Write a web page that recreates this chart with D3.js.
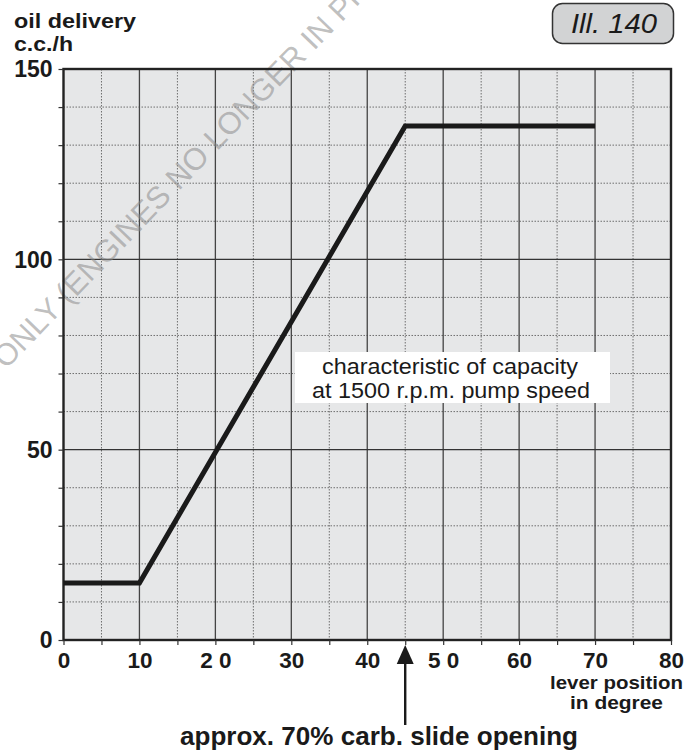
<!DOCTYPE html>
<html>
<head>
<meta charset="utf-8">
<script src="https://cdn.jsdelivr.net/npm/d3@7"></script>
<style>
  html, body { margin: 0; padding: 0; background: #fff; }
  svg { display: block; font-family: "Liberation Sans", Arial, Helvetica, sans-serif; }
</style>
</head>
<body>
<svg id="chart" width="692" height="751"></svg>
<script>
// Oil pump delivery vs. lever position
const leverDeg    = [0, 10, 45, 70];
const oilDelivery = [15, 15, 135, 135];

const xTickValues = [0, 10, 20, 30, 40, 50, 60, 70, 80];
const xTickLabels = ["0", "10", "2 0", "30", "40", "5 0", "60", "70", "80"];
const yTickValues = [0, 50, 100, 150];
const yTickLabels = ["0", "50", "100", "150"];

const slideMarkDeg = 45;   // approx. 70% carb. slide opening

const svg = d3.select("#chart");
const plotL = 63.5, plotR = 671, plotT = 69, plotB = 640;
const ink = "#1a1a1a";
const fontFam = "Liberation Sans, Arial, sans-serif";

const x = d3.scaleLinear().domain([0, 80]).range([plotL, plotR]);
const y = d3.scaleLinear().domain([0, 150]).range([plotB, plotT]);

// plot background
svg.append("rect")
  .attr("x", plotL).attr("y", plotT)
  .attr("width", plotR - plotL).attr("height", plotB - plotT)
  .attr("fill", "#e6e7e8");

const grid = svg.append("g");
// minor (dotted) grid
d3.range(5, 80, 10).forEach(v => {
  grid.append("line").attr("x1", x(v)).attr("x2", x(v)).attr("y1", plotT).attr("y2", plotB)
    .attr("stroke", "#6e6e6e").attr("stroke-width", 1).attr("stroke-dasharray", "1.5,1.5");
});
d3.range(10, 150, 10).filter(v => v % 50 !== 0).forEach(v => {
  grid.append("line").attr("x1", plotL).attr("x2", plotR).attr("y1", y(v)).attr("y2", y(v))
    .attr("stroke", "#6e6e6e").attr("stroke-width", 1).attr("stroke-dasharray", "1.5,1.5");
});
// major (solid) grid
d3.range(10, 80, 10).forEach(v => {
  grid.append("line").attr("x1", x(v)).attr("x2", x(v)).attr("y1", plotT).attr("y2", plotB)
    .attr("stroke", "#444").attr("stroke-width", 1.3);
});
[50, 100].forEach(v => {
  grid.append("line").attr("x1", plotL).attr("x2", plotR).attr("y1", y(v)).attr("y2", y(v))
    .attr("stroke", "#333").attr("stroke-width", 1.3);
});

// watermark
svg.append("text")
  .attr("transform", "translate(6,370) rotate(-46)")
  .attr("font-size", 31)
  .attr("fill", "#8a8a8a")
  .attr("fill-opacity", 0.55)
  .text("ONLY (ENGINES NO LONGER IN PR");

// frame
svg.append("rect")
  .attr("x", plotL).attr("y", plotT)
  .attr("width", plotR - plotL).attr("height", plotB - plotT)
  .attr("fill", "none").attr("stroke", "#222").attr("stroke-width", 2.4);

// axes
const yAxis = d3.axisLeft(y)
  .tickValues(d3.range(0, 151, 10))
  .tickSize(5)
  .tickFormat(d => { const i = yTickValues.indexOf(d); return i >= 0 ? yTickLabels[i] : ""; });
const gy = svg.append("g").attr("transform", `translate(${plotL},0)`).call(yAxis);
gy.select(".domain").remove();
gy.selectAll(".tick line").attr("stroke", "#333").attr("stroke-width", 1.2);
gy.selectAll(".tick text")
  .attr("x", -11).attr("dy", "0.34em")
  .attr("font-size", 23).attr("font-weight", "bold").attr("fill", ink)
  .attr("font-family", fontFam);

const xAxis = d3.axisBottom(x)
  .tickValues(d3.range(0, 81, 5))
  .tickSize(5)
  .tickFormat(d => { const i = xTickValues.indexOf(d); return i >= 0 ? xTickLabels[i] : ""; });
const gx = svg.append("g").attr("transform", `translate(0,${plotB})`).call(xAxis);
gx.select(".domain").remove();
gx.selectAll(".tick line").attr("stroke", "#333").attr("stroke-width", 1.2);
gx.selectAll(".tick text")
  .attr("y", 28).attr("dy", 0)
  .attr("font-size", 22.5).attr("font-weight", "bold").attr("fill", ink)
  .attr("font-family", fontFam);

// characteristic curve
const line = d3.line().x((d, i) => x(leverDeg[i])).y((d, i) => y(oilDelivery[i]));
svg.append("path")
  .attr("d", line(leverDeg))
  .attr("fill", "none").attr("stroke", ink)
  .attr("stroke-width", 5).attr("stroke-linejoin", "miter");

// annotation box
svg.append("rect").attr("x", 295).attr("y", 352).attr("width", 315).attr("height", 51).attr("fill", "#fff");
const note = svg.append("g").attr("font-size", 22).attr("fill", ink).attr("text-anchor", "middle");
note.append("text").attr("x", 450).attr("y", 373.5)
  .attr("textLength", 256).attr("lengthAdjust", "spacingAndGlyphs")
  .text("characteristic of capacity");
note.append("text").attr("x", 451).attr("y", 397.5)
  .attr("textLength", 278).attr("lengthAdjust", "spacingAndGlyphs")
  .text("at 1500 r.p.m. pump speed");

// axis titles
const yTitle = svg.append("g").attr("font-size", 21).attr("font-weight", "bold").attr("fill", ink);
yTitle.append("text").attr("x", 14).attr("y", 27.5)
  .attr("textLength", 122).attr("lengthAdjust", "spacingAndGlyphs").text("oil delivery");
yTitle.append("text").attr("x", 14).attr("y", 50.5)
  .attr("textLength", 59).attr("lengthAdjust", "spacingAndGlyphs").text("c.c./h");

const xTitle = svg.append("g").attr("font-size", 19).attr("font-weight", "bold")
  .attr("fill", ink).attr("text-anchor", "middle");
xTitle.append("text").attr("x", 616.5).attr("y", 688.5)
  .attr("textLength", 133).attr("lengthAdjust", "spacingAndGlyphs").text("lever position");
xTitle.append("text").attr("x", 616.5).attr("y", 708.5)
  .attr("textLength", 93).attr("lengthAdjust", "spacingAndGlyphs").text("in degree");

// slide opening marker
const ax = x(slideMarkDeg);
svg.append("line").attr("x1", ax).attr("x2", ax).attr("y1", 660).attr("y2", 725)
  .attr("stroke", ink).attr("stroke-width", 2.4);
svg.append("path")
  .attr("d", `M${ax},645 L${ax - 8.5},664 L${ax + 8.5},664 Z`)
  .attr("fill", ink);
svg.append("text").attr("x", 180).attr("y", 745)
  .attr("font-size", 25).attr("font-weight", "bold").attr("fill", ink)
  .attr("textLength", 398).attr("lengthAdjust", "spacingAndGlyphs")
  .text("approx. 70% carb. slide opening");

// illustration number badge
svg.append("rect").attr("x", 552.5).attr("y", 3.5).attr("width", 121).attr("height", 40)
  .attr("rx", 10).attr("ry", 10)
  .attr("fill", "#d2d3d4").attr("stroke", "#333").attr("stroke-width", 1.5);
svg.append("text").attr("x", 571).attr("y", 33)
  .attr("font-size", 27).attr("font-style", "italic").attr("fill", ink)
  .attr("textLength", 86).attr("lengthAdjust", "spacingAndGlyphs")
  .text("Ill. 140");
</script>
</body>
</html>
